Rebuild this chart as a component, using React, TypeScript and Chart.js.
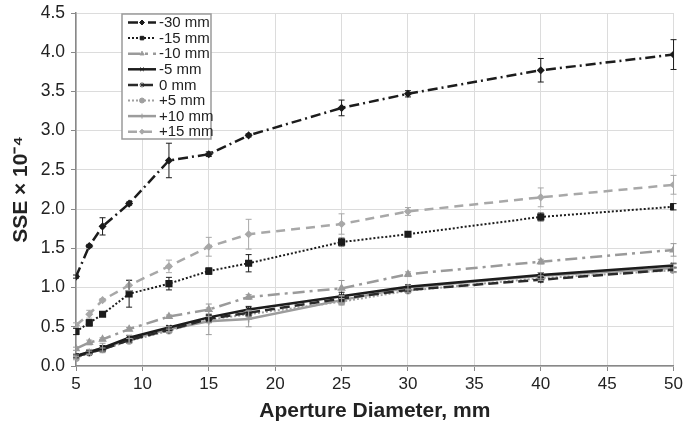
import React, { useEffect, useRef } from "react";
import { Chart, registerables, PointElement } from "chart.js";

Chart.register(...registerables);

const apertures = [5, 6, 7, 9, 12, 15, 18, 25, 30, 40, 50];

const seriesLabels = ["-30 mm", "-15 mm", "-10 mm", "-5 mm", "0 mm", "+5 mm", "+10 mm", "+15 mm"];

const m30 = [1.14, 1.53, 1.78, 2.07, 2.62, 2.70, 2.94, 3.29, 3.47, 3.77, 3.97];
const m30Err = [0.02, 0.02, 0.11, 0.02, 0.22, 0.03, 0.02, 0.1, 0.04, 0.15, 0.19];
const m15 = [0.44, 0.55, 0.66, 0.92, 1.05, 1.21, 1.31, 1.58, 1.68, 1.9, 2.03];
const m15Err = [0.04, 0.04, 0.02, 0.17, 0.08, 0.04, 0.11, 0.05, 0.03, 0.05, 0.04];
const m10 = [0.22, 0.3, 0.34, 0.47, 0.63, 0.72, 0.88, 0.99, 1.17, 1.33, 1.48];
const m10Err = [0.02, 0.03, 0.02, 0.02, 0.02, 0.07, 0.03, 0.1, 0.03, 0.03, 0.08];
const m5 = [0.13, 0.18, 0.23, 0.36, 0.49, 0.62, 0.72, 0.89, 1.01, 1.16, 1.28];
const m5Err = [0.02, 0.02, 0.03, 0.03, 0.02, 0.04, 0.04, 0.05, 0.02, 0.03, 0.03];
const z0 = [0.12, 0.17, 0.21, 0.33, 0.46, 0.6, 0.68, 0.86, 0.97, 1.1, 1.23];
const z0Err = [0.02, 0.02, 0.02, 0.03, 0.02, 0.04, 0.04, 0.04, 0.02, 0.03, 0.03];
const p5 = [0.1, 0.17, 0.21, 0.32, 0.45, 0.59, 0.66, 0.82, 0.96, 1.12, 1.22];
const p5Err = [0.02, 0.02, 0.02, 0.03, 0.02, 0.04, 0.05, 0.04, 0.02, 0.03, 0.03];
const p10 = [0.12, 0.18, 0.23, 0.34, 0.47, 0.57, 0.6, 0.84, 1.0, 1.15, 1.25];
const p10Err = [0.02, 0.03, 0.06, 0.05, 0.03, 0.17, 0.1, 0.06, 0.03, 0.04, 0.05];
const p15 = [0.52, 0.66, 0.84, 1.03, 1.27, 1.52, 1.68, 1.81, 1.97, 2.15, 2.31];
const p15Err = [0.03, 0.05, 0.02, 0.07, 0.08, 0.12, 0.19, 0.13, 0.05, 0.12, 0.12];

const yTicks = [0, 0.5, 1, 1.5, 2, 2.5, 3, 3.5, 4, 4.5];
const xTicks = [5, 10, 15, 20, 25, 30, 35, 40, 45, 50];

const FONT = "'Liberation Sans', Arial, sans-serif";

type Style = {
  color: string;
  width: number;
  dash: number[];
  point: string;
  radius: number;
};

const styles: Style[] = [
  { color: "#1c1c1c", width: 2.5, dash: [10, 4, 2, 4], point: "rectRot", radius: 3 },
  { color: "#1c1c1c", width: 2, dash: [2, 2], point: "rect", radius: 4 },
  { color: "#9a9a9a", width: 2.5, dash: [12, 5, 3, 5], point: "triangle", radius: 3.5 },
  { color: "#1c1c1c", width: 2.5, dash: [], point: "crossRot", radius: 3.5 },
  { color: "#2a2a2a", width: 2.5, dash: [10, 5], point: "star", radius: 3.5 },
  { color: "#a0a0a0", width: 2, dash: [2, 2], point: "circle", radius: 3 },
  { color: "#9c9c9c", width: 2.5, dash: [], point: "cross", radius: 3.5 },
  { color: "#a8a8a8", width: 2.5, dash: [9, 6], point: "rectRot", radius: 3 },
];

const values = [m30, m15, m10, m5, z0, p5, p10, p15];
const errors = [m30Err, m15Err, m10Err, m5Err, z0Err, p5Err, p10Err, p15Err];

const errorBarPlugin = {
  id: "errorBars",
  afterDatasetsDraw(chart: any) {
    const { ctx, scales } = chart;
    const xs = scales.x;
    const ys = scales.y;
    ctx.save();
    chart.data.datasets.forEach((ds: any, i: number) => {
      const err = errors[i];
      ctx.strokeStyle = ds.borderColor;
      ctx.lineWidth = 1;
      ctx.setLineDash([]);
      ds.data.forEach((p: any, j: number) => {
        const e = err[j];
        if (!e) return;
        const px = xs.getPixelForValue(p.x);
        const top = ys.getPixelForValue(p.y + e);
        const bot = ys.getPixelForValue(p.y - e);
        ctx.beginPath();
        ctx.moveTo(px, top);
        ctx.lineTo(px, bot);
        ctx.moveTo(px - 3, top);
        ctx.lineTo(px + 3, top);
        ctx.moveTo(px - 3, bot);
        ctx.lineTo(px + 3, bot);
        ctx.stroke();
      });
    });
    ctx.restore();
  },
};

const legendPlugin = {
  id: "insideLegend",
  afterDraw(chart: any) {
    const { ctx } = chart;
    const left = 122;
    const top = 14;
    const w = 89;
    const h = 125;
    ctx.save();
    ctx.fillStyle = "#ffffff";
    ctx.fillRect(left, top, w, h);
    ctx.strokeStyle = "#9a9a9a";
    ctx.lineWidth = 1.5;
    ctx.setLineDash([]);
    ctx.strokeRect(left, top, w, h);
    chart.data.datasets.forEach((ds: any, i: number) => {
      const y = 22.5 + i * 15.6;
      ctx.save();
      ctx.strokeStyle = ds.borderColor;
      ctx.lineWidth = ds.borderWidth;
      ctx.setLineDash(ds.borderDash || []);
      ctx.beginPath();
      ctx.moveTo(128, y);
      ctx.lineTo(156, y);
      ctx.stroke();
      ctx.setLineDash([]);
      const pt: any = new (PointElement as any)({
        x: 142,
        y,
        options: {
          pointStyle: ds.pointStyle,
          radius: 2.5,
          rotation: 0,
          borderWidth: 1,
          backgroundColor: ds.pointBackgroundColor,
          borderColor: ds.pointBorderColor,
        },
      });
      pt.skip = false;
      pt.draw(ctx, { left: 0, top: 0, right: 2000, bottom: 2000 });
      ctx.restore();
      ctx.fillStyle = "#222";
      ctx.font = `15px ${FONT}`;
      ctx.textBaseline = "middle";
      ctx.textAlign = "left";
      ctx.fillText(ds.label, 159, y + 0.5);
    });
    ctx.restore();
  },
};

export default function App() {
  const ref = useRef<HTMLCanvasElement | null>(null);
  useEffect(() => {
    document.body.style.margin = "0";
    if (!ref.current) return;
    const datasets = seriesLabels.map((label, i) => {
      const s = styles[i];
      return {
        label,
        data: apertures.map((x, j) => ({ x, y: values[i][j] })),
        borderColor: s.color,
        backgroundColor: s.color,
        borderWidth: s.width,
        borderDash: s.dash,
        pointStyle: s.point,
        pointRadius: s.radius,
        pointBackgroundColor: s.color,
        pointBorderColor: s.color,
        pointBorderWidth: 1.5,
        tension: 0,
        fill: false,
      };
    });
    const chart = new Chart(ref.current, {
      type: "line",
      data: { datasets } as any,
      plugins: [errorBarPlugin, legendPlugin],
      options: {
        animation: false,
        responsive: false,
        maintainAspectRatio: false,
        layout: { padding: { left: 0, top: 13, right: 9, bottom: 0 } },
        plugins: { legend: { display: false }, tooltip: { enabled: false } },
        scales: {
          x: {
            type: "linear",
            min: 5,
            max: 50,
            afterBuildTicks: (axis: any) => {
              axis.ticks = xTicks.map((v) => ({ value: v }));
            },
            afterFit: (axis: any) => {
              axis.height = 63;
            },
            grid: { color: "#dcdcdc", tickColor: "#888", tickLength: 5, lineWidth: 1 },
            border: { color: "#888", width: 1.5 },
            ticks: {
              color: "#222",
              font: { family: FONT, size: 17 },
              padding: 3,
              maxRotation: 0,
              callback: (v: any) => String(v),
            },
            title: {
              display: true,
              text: "Aperture Diameter, mm",
              color: "#222",
              font: { family: FONT, size: 21, weight: "bold" },
              padding: { top: 0, bottom: 5 },
            },
          },
          y: {
            type: "linear",
            min: 0,
            max: 4.5,
            afterBuildTicks: (axis: any) => {
              axis.ticks = yTicks.map((v) => ({ value: v }));
            },
            afterFit: (axis: any) => {
              axis.width = 76;
              axis.paddingTop = 0;
              axis.paddingBottom = 0;
            },
            grid: { color: "#dcdcdc", tickColor: "#888", tickLength: 5, lineWidth: 1 },
            border: { color: "#888", width: 1.5 },
            ticks: {
              color: "#222",
              font: { family: FONT, size: 17.5 },
              padding: 6,
              callback: (v: any) => Number(v).toFixed(1),
            },
            title: {
              display: true,
              text: "SSE × 10⁻⁴",
              color: "#222",
              font: { family: FONT, size: 21, weight: "bold" },
              padding: { top: 9, bottom: 0 },
            },
          },
        },
      } as any,
    });
    return () => chart.destroy();
  }, []);
  return (
    <div style={{ width: 686, height: 429 }}>
      <canvas ref={ref} width={686} height={429} style={{ display: "block" }} />
    </div>
  );
}
